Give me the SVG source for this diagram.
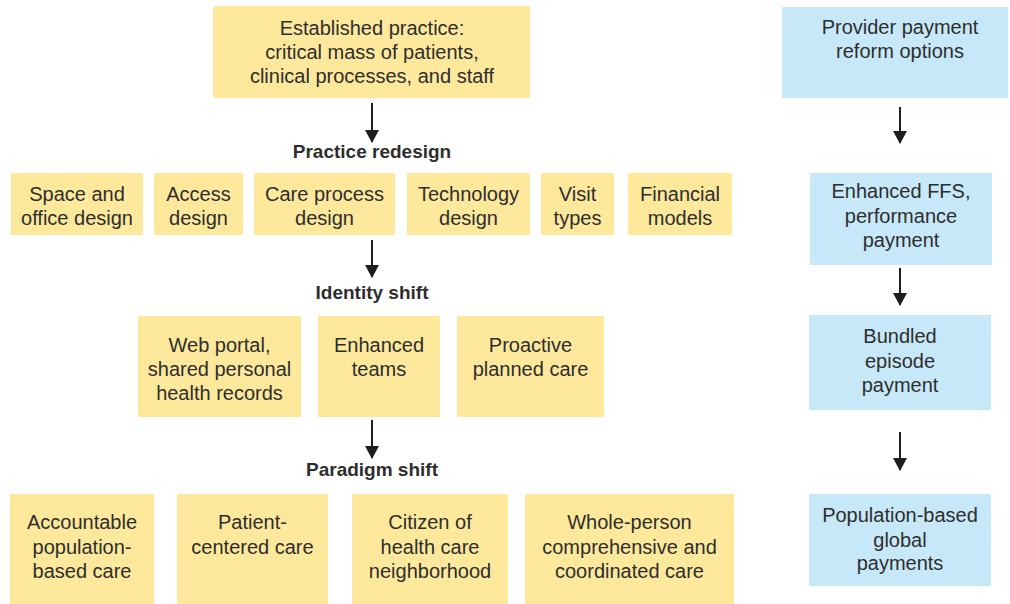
<svg xmlns="http://www.w3.org/2000/svg" width="1010" height="604" viewBox="0 0 1010 604">
  <style>
    .y { fill: #fde89b; }
    .b { fill: #c7e8f8; }
    text { font-family: "Liberation Sans", Arial, sans-serif; font-size: 20px; fill: #2e2e2e; text-anchor: middle; }
    .h { font-weight: bold; font-size: 19px; }
    .arrow { stroke: #1e1e1e; stroke-width: 2; fill: none; }
  </style>
  <defs>
    <!-- arrowhead drawn along +x so orient="auto" turns it with the line -->
    <marker id="head" viewBox="0 0 13 14" refX="12" refY="7" markerWidth="13" markerHeight="14" markerUnits="userSpaceOnUse" orient="auto">
      <path d="M0,0 L13,7 L0,14 Z" fill="#1e1e1e"/>
    </marker>
  </defs>

  <!-- Top: established practice -->
  <g id="established">
    <rect class="y" x="213" y="6" width="317" height="92"/>
    <text x="372" y="35">Established practice:</text>
    <text x="372" y="59">critical mass of patients,</text>
    <text x="372" y="83">clinical processes, and staff</text>
  </g>

  <g id="label-practice-redesign"><text class="h" x="372" y="158">Practice redesign</text></g>

  <!-- Practice redesign row -->
  <g id="space-office">
    <rect class="y" x="11" y="173" width="132" height="62"/>
    <text x="77" y="201">Space and</text>
    <text x="77" y="225">office design</text>
  </g>
  <g id="access">
    <rect class="y" x="154" y="173" width="89" height="62"/>
    <text x="198.5" y="201">Access</text>
    <text x="198.5" y="225">design</text>
  </g>
  <g id="care-process">
    <rect class="y" x="254" y="173" width="141" height="62"/>
    <text x="324.5" y="201">Care process</text>
    <text x="324.5" y="225">design</text>
  </g>
  <g id="technology">
    <rect class="y" x="407" y="173" width="123" height="62"/>
    <text x="468.5" y="201">Technology</text>
    <text x="468.5" y="225">design</text>
  </g>
  <g id="visit-types">
    <rect class="y" x="541" y="173" width="73" height="62"/>
    <text x="577.5" y="201">Visit</text>
    <text x="577.5" y="225">types</text>
  </g>
  <g id="financial">
    <rect class="y" x="628" y="173" width="104" height="62"/>
    <text x="680" y="201">Financial</text>
    <text x="680" y="225">models</text>
  </g>

  <g id="label-identity-shift"><text class="h" x="372" y="299">Identity shift</text></g>

  <!-- Identity shift row -->
  <g id="web-portal">
    <rect class="y" x="138" y="316" width="163" height="101"/>
    <text x="219.5" y="352">Web portal,</text>
    <text x="219.5" y="376">shared personal</text>
    <text x="219.5" y="400">health records</text>
  </g>
  <g id="enhanced-teams">
    <rect class="y" x="318" y="316" width="122" height="101"/>
    <text x="379" y="352">Enhanced</text>
    <text x="379" y="376">teams</text>
  </g>
  <g id="proactive">
    <rect class="y" x="457" y="316" width="147" height="101"/>
    <text x="530.5" y="352">Proactive</text>
    <text x="530.5" y="376">planned care</text>
  </g>

  <g id="label-paradigm-shift"><text class="h" x="372" y="476">Paradigm shift</text></g>

  <!-- Paradigm shift row -->
  <g id="accountable">
    <rect class="y" x="10" y="494" width="144" height="110"/>
    <text x="82" y="529">Accountable</text>
    <text x="82" y="554">population-</text>
    <text x="82" y="578">based care</text>
  </g>
  <g id="patient-centered">
    <rect class="y" x="177" y="494" width="151" height="110"/>
    <text x="252.5" y="529">Patient-</text>
    <text x="252.5" y="554">centered care</text>
  </g>
  <g id="citizen">
    <rect class="y" x="352" y="494" width="156" height="110"/>
    <text x="430" y="529">Citizen of</text>
    <text x="430" y="554">health care</text>
    <text x="430" y="578">neighborhood</text>
  </g>
  <g id="whole-person">
    <rect class="y" x="525" y="494" width="209" height="110"/>
    <text x="629.5" y="529">Whole-person</text>
    <text x="629.5" y="554">comprehensive and</text>
    <text x="629.5" y="578">coordinated care</text>
  </g>

  <!-- Payment reform column -->
  <g id="provider-payment">
    <rect class="b" x="782" y="7" width="226" height="91"/>
    <text x="900" y="34">Provider payment</text>
    <text x="900" y="58">reform options</text>
  </g>
  <g id="enhanced-ffs">
    <rect class="b" x="810" y="173" width="182" height="92"/>
    <text x="901" y="198">Enhanced FFS,</text>
    <text x="901" y="223">performance</text>
    <text x="901" y="247">payment</text>
  </g>
  <g id="bundled">
    <rect class="b" x="809" y="315" width="182" height="95"/>
    <text x="900" y="343">Bundled</text>
    <text x="900" y="368">episode</text>
    <text x="900" y="392">payment</text>
  </g>
  <g id="population-global">
    <rect class="b" x="809" y="494" width="182" height="92"/>
    <text x="900" y="522">Population-based</text>
    <text x="900" y="547">global</text>
    <text x="900" y="570">payments</text>
  </g>

  <!-- Connectors -->
  <g id="connectors">
    <line class="arrow" x1="372" y1="103" x2="372" y2="142" marker-end="url(#head)"/>
    <line class="arrow" x1="372" y1="240" x2="372" y2="277" marker-end="url(#head)"/>
    <line class="arrow" x1="372" y1="420" x2="372" y2="458" marker-end="url(#head)"/>
    <line class="arrow" x1="900" y1="107" x2="900" y2="143" marker-end="url(#head)"/>
    <line class="arrow" x1="900" y1="268" x2="900" y2="305" marker-end="url(#head)"/>
    <line class="arrow" x1="900" y1="432" x2="900" y2="470" marker-end="url(#head)"/>
  </g>
</svg>
